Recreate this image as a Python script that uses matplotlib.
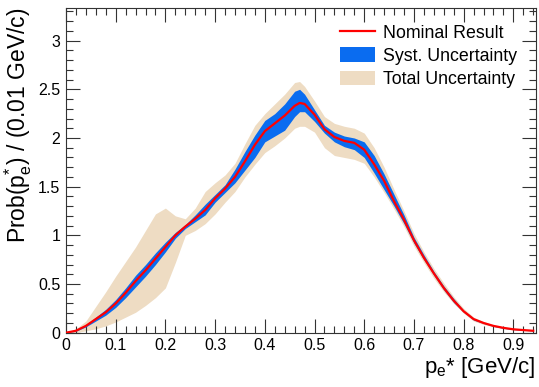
import matplotlib
matplotlib.use("Agg")
import matplotlib.pyplot as plt
from matplotlib.ticker import MultipleLocator
from matplotlib.patches import Patch
from matplotlib.lines import Line2D

plt.rcParams['font.family'] = ['Liberation Sans', 'DejaVu Sans']
plt.rcParams['mathtext.fontset'] = 'custom'
plt.rcParams['mathtext.rm'] = 'Liberation Sans'
plt.rcParams['mathtext.it'] = 'Liberation Sans'

# ---- data ----
p_e = [0.00, 0.02, 0.04, 0.06, 0.08, 0.10, 0.12, 0.14, 0.16, 0.18,
       0.20, 0.22, 0.24, 0.26, 0.28, 0.30, 0.32, 0.34, 0.36, 0.38,
       0.40, 0.42, 0.44, 0.46, 0.47, 0.48, 0.50, 0.52, 0.54, 0.56,
       0.58, 0.60, 0.62, 0.64, 0.66, 0.68, 0.70, 0.72, 0.74, 0.76,
       0.78, 0.80, 0.82, 0.84, 0.86, 0.88, 0.90, 0.92, 0.94]

nominal = [0.00, 0.02, 0.07, 0.14, 0.21, 0.30, 0.41, 0.53, 0.64, 0.76,
           0.88, 1.00, 1.09, 1.17, 1.26, 1.38, 1.48, 1.60, 1.76, 1.93,
           2.07, 2.15, 2.23, 2.33, 2.36, 2.35, 2.24, 2.09, 2.01, 1.97,
           1.95, 1.88, 1.73, 1.56, 1.35, 1.16, 0.95, 0.77, 0.61, 0.46,
           0.33, 0.22, 0.14, 0.10, 0.07, 0.05, 0.035, 0.027, 0.02]

syst_lo = [0.00, 0.015, 0.06, 0.12, 0.18, 0.26, 0.36, 0.47, 0.58, 0.70,
           0.83, 0.97, 1.07, 1.14, 1.21, 1.34, 1.44, 1.54, 1.67, 1.80,
           1.96, 2.02, 2.08, 2.22, 2.27, 2.27, 2.17, 2.05, 1.96, 1.91,
           1.88, 1.80, 1.64, 1.47, 1.30, 1.12, 0.92, 0.75, 0.59, 0.44,
           0.31, 0.21, 0.13, 0.095, 0.065, 0.045, 0.032, 0.025, 0.018]
syst_hi = [0.00, 0.025, 0.08, 0.16, 0.24, 0.34, 0.46, 0.59, 0.70, 0.82,
           0.93, 1.03, 1.11, 1.21, 1.32, 1.42, 1.52, 1.68, 1.86, 2.03,
           2.18, 2.25, 2.35, 2.48, 2.50, 2.45, 2.29, 2.13, 2.06, 2.02,
           2.00, 1.96, 1.82, 1.63, 1.42, 1.21, 0.98, 0.80, 0.63, 0.48,
           0.35, 0.23, 0.15, 0.105, 0.075, 0.055, 0.038, 0.029, 0.022]

total_lo = [0.00, 0.00, 0.02, 0.04, 0.07, 0.11, 0.16, 0.21, 0.28, 0.36,
            0.46, 0.72, 1.00, 1.05, 1.12, 1.22, 1.34, 1.45, 1.60, 1.73,
            1.85, 1.92, 2.00, 2.10, 2.12, 2.12, 2.06, 1.90, 1.82, 1.80,
            1.78, 1.74, 1.60, 1.44, 1.27, 1.09, 0.89, 0.72, 0.56, 0.42,
            0.30, 0.20, 0.12, 0.085, 0.06, 0.04, 0.028, 0.022, 0.015]
total_hi = [0.00, 0.04, 0.12, 0.27, 0.42, 0.58, 0.73, 0.88, 1.05, 1.22,
            1.28, 1.20, 1.17, 1.28, 1.45, 1.54, 1.62, 1.74, 1.94, 2.13,
            2.25, 2.35, 2.45, 2.57, 2.58, 2.53, 2.38, 2.22, 2.15, 2.12,
            2.10, 2.05, 1.90, 1.70, 1.47, 1.25, 1.02, 0.83, 0.66, 0.51,
            0.37, 0.25, 0.16, 0.115, 0.08, 0.06, 0.042, 0.032, 0.025]

x_ticks = [0, 0.1, 0.2, 0.3, 0.4, 0.5, 0.6, 0.7, 0.8, 0.9]
y_ticks = [0, 0.5, 1, 1.5, 2, 2.5, 3]

tan = '#eedcc3'
blue = '#0a6cf0'
red = '#ff0000'

fig = plt.figure(figsize=(5.39, 3.87), dpi=100)
ax = fig.add_axes([0.1224, 0.1403, 0.8715, 0.839])

ax.fill_between(p_e, total_lo, total_hi, color=tan, lw=0, zorder=1)
ax.fill_between(p_e, syst_lo, syst_hi, color=blue, lw=0, zorder=2)
ax.plot(p_e, nominal, color=red, lw=1.6, zorder=3)

ax.set_xlim(0, 0.945)
ax.set_ylim(0, 3.335)
ax.set_xticks(x_ticks)
ax.set_xticklabels(['0', '0.1', '0.2', '0.3', '0.4', '0.5', '0.6', '0.7', '0.8', '0.9'])
ax.set_yticks(y_ticks)
ax.set_yticklabels(['0', '0.5', '1', '1.5', '2', '2.5', '3'])
ax.xaxis.set_minor_locator(MultipleLocator(0.02))
ax.yaxis.set_minor_locator(MultipleLocator(0.1))
ax.tick_params(which='both', direction='in', top=True, right=True,
               labelsize=11.5, color='#333333', width=0.8)
ax.tick_params(which='major', length=10, pad=4)
ax.tick_params(which='minor', length=5)
for s in ax.spines.values():
    s.set_color('#333333')
    s.set_linewidth(0.8)

ax.set_xlabel(r'p$_{\mathregular{e}}$* [GeV/c]', fontsize=16, loc='right', labelpad=1)
ax.set_ylabel(r'Prob(p$_{\mathregular{e}}^{\mathregular{*}}$) / (0.01 GeV/c)', fontsize=16.5,
              loc='top', labelpad=3)

handles = [Line2D([], [], color=red, lw=1.6),
           Patch(facecolor=blue, edgecolor='none'),
           Patch(facecolor=tan, edgecolor='none')]
labels = ['Nominal Result', 'Syst. Uncertainty', 'Total Uncertainty']
ax.legend(handles, labels, loc='upper right', bbox_to_anchor=(0.975, 0.972),
          borderaxespad=0, frameon=False, fontsize=12.8, handlelength=1.95,
          handleheight=0.9, handletextpad=0.45, labelspacing=0.32)

fig.savefig('out.png', dpi=100)
